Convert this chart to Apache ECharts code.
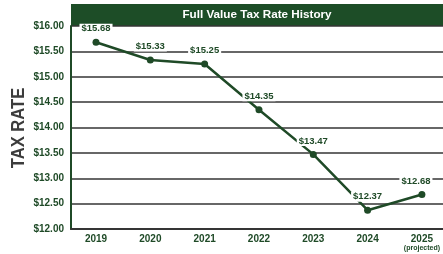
<!DOCTYPE html>
<html lang="en">
<head>
<meta charset="UTF-8">
<title>Full Value Tax Rate History</title>
<script src="https://cdn.jsdelivr.net/npm/echarts@6.0.0/dist/echarts.min.js"></script>
<style>
  body { margin: 0; background: #fff; }
</style>
</head>
<body>
<div id="main" style="width:443px;height:254px;"></div>
<script type="text/javascript">
  // data
  const years = ['2019', '2020', '2021', '2022', '2023', '2024', '2025'];
  const rates = [15.68, 15.33, 15.25, 14.35, 13.47, 12.37, 12.68];
  const rateTicks = [12, 12.5, 13, 13.5, 14, 14.5, 15, 15.5, 16];

  const green = '#1f4a27';
  const lineGray = '#353535';
  const font = '"Liberation Sans", Arial, sans-serif';

  const chart = echarts.init(document.getElementById('main'));

  // last label sits a bit to the left so it stays in view
  const seriesData = rates.map((v, i) => {
    const item = { value: v };
    if (i === rates.length - 1) item.label = { offset: [-6, 0] };
    return item;
  });

  const option = {
    animation: false,
    backgroundColor: '#fff',
    graphic: [
      {
        type: 'rect',
        shape: { x: 71, y: 4, width: 372, height: 22 },
        style: { fill: '#1d4d27' }
      },
      {
        type: 'text',
        x: 257, y: 15,
        style: {
          text: 'Full Value Tax Rate History',
          fill: '#fff',
          font: 'bold 11.7px ' + font,
          align: 'center',
          verticalAlign: 'middle'
        }
      },
      {
        type: 'text',
        x: 19, y: 128,
        rotation: Math.PI / 2,
        scaleX: 0.92,
        style: {
          text: 'TAX RATE',
          fill: '#3c3c3c',
          font: 'bold 18px ' + font,
          align: 'center',
          verticalAlign: 'middle'
        }
      }
    ],
    grid: [
      { left: 71, right: 0, top: 26, bottom: 25 },
      { left: 96, right: 12, top: 26, bottom: 25 }
    ],
    xAxis: [
      {
        gridIndex: 0,
        type: 'category',
        data: years,
        axisLine: { show: true, lineStyle: { color: lineGray, width: 2 } },
        axisTick: { show: false },
        axisLabel: { show: false },
        splitLine: { show: false }
      },
      {
        gridIndex: 1,
        type: 'category',
        data: years,
        boundaryGap: false,
        axisLine: { show: false },
        axisTick: { show: false },
        axisLabel: {
          interval: 0,
          margin: 5,
          color: green,
          fontFamily: font,
          fontWeight: 'bold',
          fontSize: 10,
          formatter: (v, i) => i === years.length - 1 ? v + '\n{p|(projected)}' : v,
          rich: {
            p: { fontSize: 7, fontWeight: 'bold', color: green, fontFamily: font, lineHeight: 9 }
          }
        }
      }
    ],
    yAxis: [
      {
        gridIndex: 0,
        type: 'value',
        min: rateTicks[0],
        max: rateTicks[rateTicks.length - 1],
        interval: 0.5,
        axisLine: { show: true, lineStyle: { color: green, width: 2 } },
        axisTick: { show: false },
        axisLabel: {
          margin: 7,
          color: green,
          fontFamily: font,
          fontWeight: 'bold',
          fontSize: 10,
          formatter: v => '$' + v.toFixed(2)
        },
        splitLine: { show: true, lineStyle: { color: lineGray, width: 1.6 } }
      },
      {
        gridIndex: 1,
        type: 'value',
        min: rateTicks[0],
        max: rateTicks[rateTicks.length - 1],
        show: false
      }
    ],
    series: [
      {
        type: 'line',
        xAxisIndex: 1,
        yAxisIndex: 1,
        data: seriesData,
        symbol: 'circle',
        symbolSize: 7,
        lineStyle: { color: green, width: 2.5 },
        itemStyle: { color: green },
        label: {
          show: true,
          position: 'top',
          distance: 5,
          color: green,
          fontFamily: font,
          fontWeight: 'bold',
          fontSize: 9.5,
          backgroundColor: '#fff',
          padding: [0, 2],
          formatter: p => '$' + p.value.toFixed(2)
        }
      }
    ]
  };

  chart.setOption(option);
</script>
</body>
</html>
